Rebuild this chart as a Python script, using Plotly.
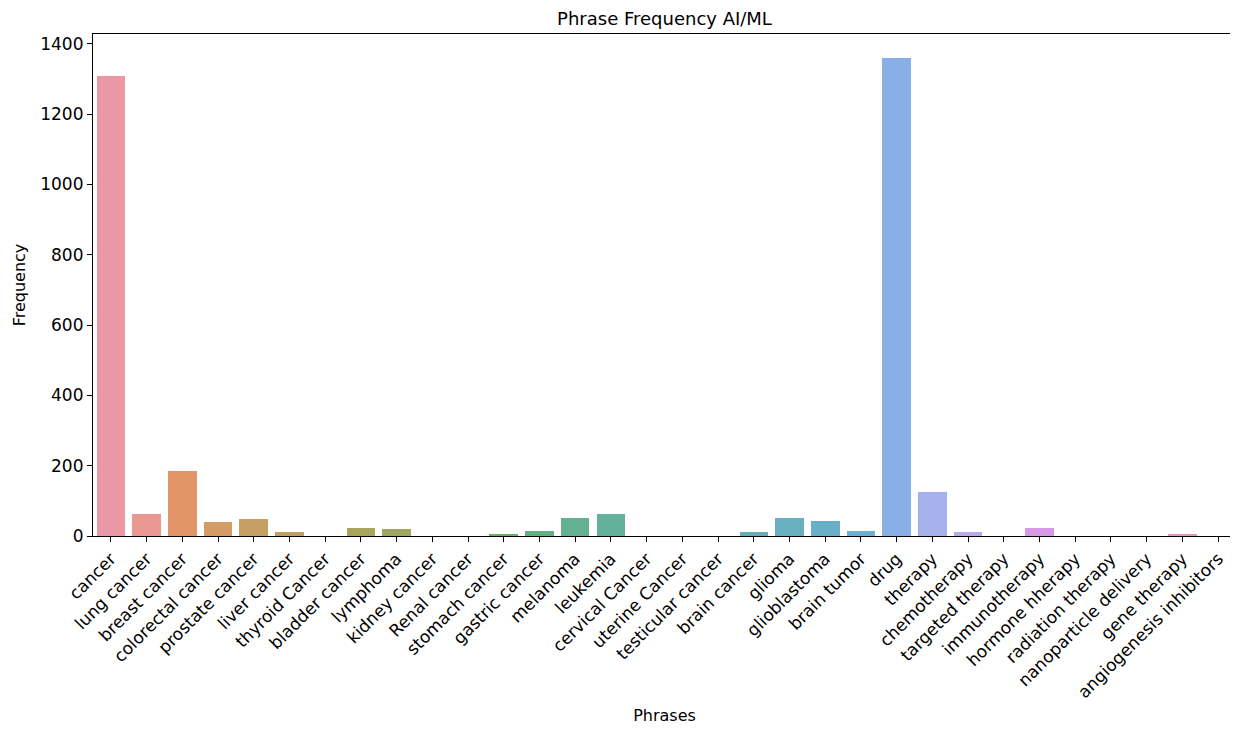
import math
import colorsys
import plotly.graph_objects as go

phrases = ["cancer", "lung cancer", "breast cancer", "colorectal cancer", "prostate cancer",
           "liver cancer", "thyroid Cancer", "bladder cancer", "lymphoma", "kidney cancer",
           "Renal cancer", "stomach cancer", "gastric cancer", "melanoma", "leukemia",
           "cervical Cancer", "uterine Cancer", "testicular cancer", "brain cancer", "glioma",
           "glioblastoma", "brain tumor", "drug", "therapy", "chemotherapy", "targeted therapy",
           "immunotherapy", "hormone hherapy", "radiation therapy", "nanoparticle delivery",
           "gene therapy", "angiogenesis inhibitors"]
frequency = [1308, 63, 185, 40, 48, 11, 0, 23, 19, 0,
             0, 4, 15, 51, 63, 0, 0, 0, 11, 51,
             44, 15, 1360, 126, 11, 0, 23, 0, 0, 0,
             4, 0]
y_ticks = [0, 200, 400, 600, 800, 1000, 1200, 1400]

# --- seaborn-like husl palette, desaturated 0.75 ---
_M = [[3.2406, -1.5372, -0.4986], [-0.9689, 1.8758, 0.0415], [0.0557, -0.2040, 1.0570]]
_refU, _refV = 0.19784, 0.46834


def _max_chroma(L, H):
    hrad = math.radians(H)
    sinH, cosH = math.sin(hrad), math.cos(hrad)
    sub1 = (L + 16) ** 3 / 1560896.0
    sub2 = sub1 if sub1 > 0.008856 else L / 903.3
    result = float("inf")
    for m1, m2, m3 in _M:
        top = (0.99915 * m1 + 1.05122 * m2 + 1.14460 * m3) * sub2
        rbottom = 0.86330 * m3 - 0.17266 * m2
        lbottom = 0.12949 * m3 - 0.38848 * m1
        bottom = (rbottom * sinH + lbottom * cosH) * sub2
        for t in (0.0, 1.0):
            C = L * (top - 1.05122 * t) / (bottom + 0.17266 * sinH * t)
            if 0.0 < C < result:
                result = C
    return result


def _f_inv(t):
    return t ** 3 if t ** 3 > 0.008856 else (116.0 * t - 16.0) / 903.3


def _from_linear(c):
    return 12.92 * c if c <= 0.0031308 else 1.055 * c ** (1 / 2.4) - 0.055


def husl_to_rgb(h, s, l):
    if l > 99.9999:
        L, C = 100.0, 0.0
    elif l < 1e-8:
        L, C = 0.0, 0.0
    else:
        L, C = l, _max_chroma(l, h) / 100.0 * s
    hrad = math.radians(h)
    U, V = math.cos(hrad) * C, math.sin(hrad) * C
    if L == 0:
        X = Y = Z = 0.0
    else:
        varY = _f_inv((L + 16.0) / 116.0)
        varU = U / (13.0 * L) + _refU
        varV = V / (13.0 * L) + _refV
        Y = varY
        X = -(9.0 * Y * varU) / ((varU - 4.0) * varV - varU * varV)
        Z = (9.0 * Y - 15.0 * varV * Y - varV * X) / (3.0 * varV)
    rgb = [_from_linear(r[0] * X + r[1] * Y + r[2] * Z) for r in _M]
    return [min(max(c, 0.0), 1.0) for c in rgb]


def husl_palette(n, h=0.01, s=0.9, l=0.65, lighten=0.17):
    cols = []
    for i in range(n):
        hue = ((i / n + h) % 1) * 359
        r, g, b = husl_to_rgb(hue, s * 99, l * 99)
        hh, ll, ss = colorsys.rgb_to_hls(r, g, b)
        r, g, b = colorsys.hls_to_rgb(hh, ll, ss * 0.75)
        r, g, b = [c + (1 - c) * lighten for c in (r, g, b)]
        cols.append("rgb(%d,%d,%d)" % (round(r * 255), round(g * 255), round(b * 255)))
    return cols


colors = husl_palette(len(phrases))

fig = go.Figure(go.Bar(
    x=list(range(len(phrases))), y=frequency, marker_color=colors,
    marker_line_width=0, width=0.8,
))

FONT = "DejaVu Sans, sans-serif"
fig.update_layout(
    width=1230, height=725,
    margin=dict(l=85, r=2, t=26, b=197, autoexpand=False),
    plot_bgcolor="white", paper_bgcolor="white",
    font=dict(family=FONT, size=17, color="black"), showlegend=False, bargap=0,
    title=dict(text="Phrase Frequency AI/ML", x=0.5, xref="paper", xanchor="center",
               y=1 - 4 / 725, yref="container", yanchor="top",
               font=dict(family=FONT, size=18, color="black")),
)
fig.update_xaxes(
    range=[-0.5, len(phrases) - 0.5], tickmode="array", tickvals=list(range(len(phrases))),
    ticktext=phrases, tickangle=-45, ticks="outside", ticklen=5, tickcolor="black",
    showline=True, linecolor="black", linewidth=1.2, mirror=True, showgrid=False,
    title=dict(text="Phrases", standoff=8, font=dict(size=16)), zeroline=False, automargin=False,
)
fig.update_yaxes(
    range=[0, 1428], tickmode="array", tickvals=y_ticks, ticks="outside", ticklen=5,
    tickcolor="black", showline=True, linecolor="black", linewidth=1.2, mirror=True,
    showgrid=False, zeroline=False, title=dict(text="Frequency", standoff=10, font=dict(size=16)),
    automargin=False,
)

fig.write_html("out.html")
